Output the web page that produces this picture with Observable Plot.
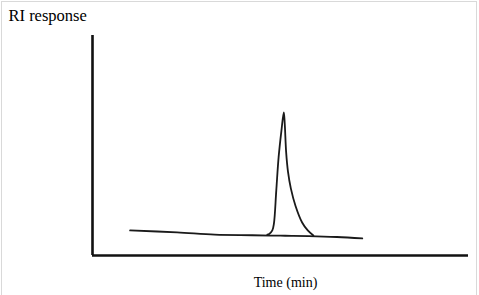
<!DOCTYPE html>
<html>
<head>
<meta charset="utf-8">
<script src="https://cdn.jsdelivr.net/npm/d3@7"></script>
<script src="https://cdn.jsdelivr.net/npm/@observablehq/plot@0.6"></script>
<style>
  html, body { margin: 0; padding: 0; background: #fff; }
  #wrap { position: relative; width: 479px; height: 295px; overflow: hidden; }
  #border { position: absolute; left: 1px; top: 1px; width: 476px; height: 300px; border: 1px solid #d9d9d9; box-sizing: border-box; pointer-events: none; }
</style>
</head>
<body>
<div id="wrap"><div id="border"></div></div>
<script>
// Baseline of the chromatogram (time in min, RI response in arbitrary units)
const baseTime = [4.0, 9.0, 13.0, 17.0, 20.0, 23.0, 26.0, 28.7];
const baseResp = [11.4, 10.5, 9.45, 9.2, 9.0, 8.8, 8.4, 7.8];

// Peak trace
const peakTime = [18.6, 18.8, 19.13, 19.3, 19.55, 19.8, 20.1, 20.35, 20.45, 20.6, 20.8, 21.1, 21.6, 22.3, 22.9, 23.5];
const peakResp = [9.5, 9.8, 11.4, 14.5, 29.5, 44.7, 56.8, 65.1, 60, 47, 38, 30.5, 22.5, 15, 11.4, 9.1];

const xLabel = "Time (min)";
const yLabel = "RI response";
const xDomain = [0, 40];
const yDomain = [0, 100];

const data = [
  ...baseTime.map((t, i) => ({series: "baseline", t, r: baseResp[i]})),
  ...peakTime.map((t, i) => ({series: "peak", t, r: peakResp[i]}))
];

const chart = Plot.plot({
  width: 479,
  height: 295,
  marginLeft: 92,
  marginRight: 11,
  marginTop: 35,
  marginBottom: 40,
  x: {domain: xDomain, axis: null},
  y: {domain: yDomain, axis: null},
  style: {fontFamily: "'Liberation Serif', 'Times New Roman', serif", background: "transparent"},
  marks: [
    Plot.line(data, {x: "t", y: "r", z: "series", stroke: "#1a1a1a", strokeWidth: 1.8, curve: "catmull-rom"}),
    Plot.ruleX([xDomain[0]], {y1: yDomain[0], y2: yDomain[1], stroke: "#111", strokeWidth: 2.6}),
    Plot.ruleY([yDomain[0]], {x1: xDomain[0], x2: xDomain[1], stroke: "#111", strokeWidth: 2.6}),
    Plot.text([yLabel], {frameAnchor: "top-left", dx: -84, dy: -20, textAnchor: "start", lineAnchor: "middle", fontSize: 16.5, fill: "#000"}),
    Plot.text([xLabel], {frameAnchor: "bottom", dx: 5, dy: 27, lineAnchor: "middle", fontSize: 14, fill: "#000"})
  ]
});
document.getElementById("wrap").prepend(chart);
</script>
</body>
</html>
